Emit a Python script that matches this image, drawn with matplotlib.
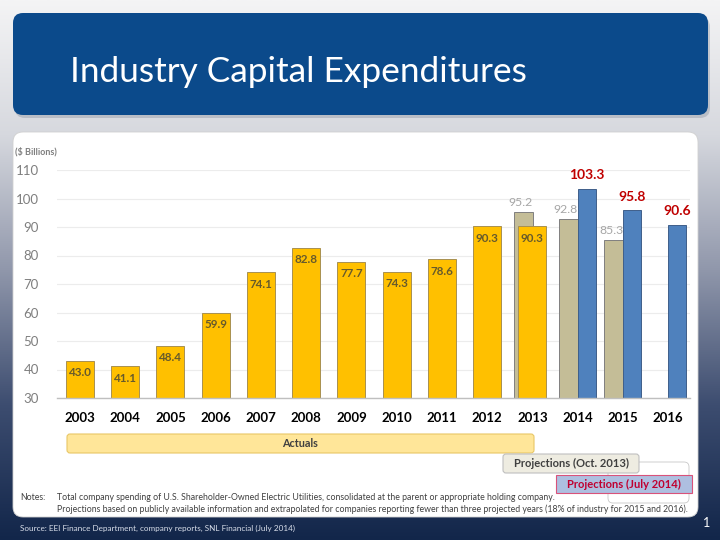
import numpy as np
import matplotlib.pyplot as plt
from matplotlib.patches import FancyBboxPatch, Rectangle
from matplotlib.colors import LinearSegmentedColormap

plt.rcParams['font.family'] = ['Lato', 'DejaVu Sans']

years = ['2003', '2004', '2005', '2006', '2007', '2008', '2009',
         '2010', '2011', '2012', '2013', '2014', '2015', '2016']
actuals = [43.0, 41.1, 48.4, 59.9, 74.1, 82.8, 77.7, 74.3, 78.6, 90.3, 90.3]
oct2013_years = ['2013', '2014', '2015']
oct2013 = [95.2, 92.8, 85.3]
jul2014_years = ['2014', '2015', '2016']
jul2014 = [103.3, 95.8, 90.6]
yticks = [30, 40, 50, 60, 70, 80, 90, 100, 110]

notes1 = ('Total company spending of U.S. Shareholder-Owned Electric Utilities, '
          'consolidated at the parent or appropriate holding company.')
notes2 = ('Projections based on publicly available information and extrapolated for '
          'companies reporting fewer than three projected years (18% of industry for 2015 and 2016).')
source = 'Source: EEI Finance Department, company reports, SNL Financial (July 2014)'

fig = plt.figure(figsize=(7.2, 5.4), dpi=100)

# slide background in pixel coordinates
bg = fig.add_axes([0, 0, 1, 1])
bg.set_xlim(0, 720)
bg.set_ylim(540, 0)
bg.axis('off')
cmap = LinearSegmentedColormap.from_list('slide', [(0, '#f4f4f5'), (0.25, '#d6d8de'),
                                                   (0.5, '#9097ab'), (0.75, '#3d4d70'),
                                                   (1.0, '#12264a')])
grad = np.linspace(0, 1, 256).reshape(-1, 1)
bg.imshow(grad, cmap=cmap, extent=[0, 720, 540, 0], aspect='auto', zorder=0)

# header band with a soft shadow
bg.add_patch(FancyBboxPatch((15, 17), 695, 101, boxstyle='round,pad=0,rounding_size=10',
                            fc='#7d8696', ec='none', alpha=0.35, zorder=1))
bg.add_patch(FancyBboxPatch((13, 13), 695, 102, boxstyle='round,pad=0,rounding_size=10',
                            fc='#0b4a8b', ec='none', zorder=2))
bg.text(70, 82, 'Industry Capital Expenditures', color='white', fontsize=25.4,
        va='baseline', ha='left', zorder=3)

# white panel
bg.add_patch(FancyBboxPatch((13, 132), 685, 385, boxstyle='round,pad=0,rounding_size=10',
                            fc='white', ec='#d0d0d0', lw=0.6, zorder=2))
bg.text(15, 152, '($ Billions)', color='#7f7f7f', fontsize=6.5, fontweight='bold',
        va='center', ha='left', zorder=3)

# period boxes under the axis
bg.add_patch(FancyBboxPatch((67, 434), 467, 19, boxstyle='round,pad=0,rounding_size=3',
                            fc='#ffe699', ec='#e8c766', lw=0.8, zorder=3))
bg.text(300, 443.5, 'Actuals', color='#404040', fontsize=7.8, fontweight='bold',
        ha='center', va='center', zorder=4)
bg.add_patch(FancyBboxPatch((608, 462), 81, 41, boxstyle='round,pad=0,rounding_size=5',
                            fc='none', ec='#c8c8c8', lw=0.6, zorder=3))
bg.add_patch(FancyBboxPatch((503, 454), 136, 19, boxstyle='round,pad=0,rounding_size=3',
                            fc='#eeece1', ec='#bfbfbf', lw=0.8, zorder=3))
bg.text(571, 463.5, 'Projections (Oct. 2013)', color='#404040', fontsize=8,
        fontweight='bold', ha='center', va='center', zorder=4)
bg.add_patch(Rectangle((556, 475), 136, 18, fc='#aebfe0', ec='#d9527a', lw=0.8, zorder=4))
bg.text(624, 484, 'Projections (July 2014)', color='#c00030', fontsize=8,
        fontweight='bold', ha='center', va='center', zorder=5)

# notes and footer
bg.text(20, 497, 'Notes:', color='#404040', fontsize=6.3, va='center', zorder=4)
bg.text(57, 497, notes1, color='#404040', fontsize=6.3, va='center', zorder=4)
bg.text(57, 509, notes2, color='#404040', fontsize=6.3, va='center', zorder=4)
bg.text(20, 528, source, color='#d8deea', fontsize=5.9, va='center', zorder=4)
bg.text(707, 523, '1', color='white', fontsize=9, ha='center', va='center', zorder=4)

# chart axes
ax = fig.add_axes([57 / 720, 1 - 398 / 540, 633 / 720, 228 / 540])
ax.patch.set_alpha(0)
x = np.arange(len(years))
xa = x[:len(actuals)]
xo = np.array([years.index(y) for y in oct2013_years])
xj = np.array([years.index(y) for y in jul2014_years])

ax.bar(xo - 0.2, [v - 30 for v in oct2013], width=0.42, bottom=30, color='#c4bd97',
       edgecolor='#7f7f7f', linewidth=0.7, zorder=2)
ax.bar(xa, [v - 30 for v in actuals], width=0.62, bottom=30, color='#ffc000',
       edgecolor='#a89050', linewidth=0.7, zorder=3)
ax.bar(xj + 0.2, [v - 30 for v in jul2014], width=0.4, bottom=30, color='#4f81bd',
       edgecolor='#3f5f8a', linewidth=0.7, zorder=3)

for xi, v in zip(xa, actuals):
    ax.annotate(f'{v:.1f}', (xi, v), xytext=(0, -8.6), textcoords='offset points',
                ha='center', va='center', fontsize=8.4, fontweight='bold',
                color='#665a2c', zorder=5)
for xi, v in zip(xo, oct2013):
    ax.annotate(f'{v:.1f}', (xi - 0.2, v), xytext=(-2, 7.2), textcoords='offset points',
                ha='center', va='center', fontsize=8.8, color='#a6a6a6', zorder=5)
for xi, v in zip(xj, jul2014):
    ax.annotate(f'{v:.1f}', (xi + 0.2, v), xytext=(0, 10), textcoords='offset points',
                ha='center', va='center', fontsize=10, fontweight='bold',
                color='#c00000', zorder=5)

ax.set_xlim(-0.508, 13.486)
ax.set_ylim(30, 110)
ax.set_yticks(yticks)
ax.set_yticklabels([str(t) for t in yticks], color='#7f7f7f', fontsize=9.5)
ax.set_xticks(x)
ax.set_xticklabels(years, fontsize=9.5, fontweight='bold', color='black')
ax.tick_params(axis='y', length=0, pad=13)
ax.tick_params(axis='x', length=0, pad=10)
ax.grid(axis='y', color='#ececec', linewidth=0.8, zorder=0)
ax.set_axisbelow(True)
for s in ['top', 'right', 'left']:
    ax.spines[s].set_visible(False)
ax.spines['bottom'].set_color('#bfbfbf')
ax.spines['bottom'].set_linewidth(1.0)
ax.spines['bottom'].set_zorder(4)

fig.savefig('out.png', dpi=100)
